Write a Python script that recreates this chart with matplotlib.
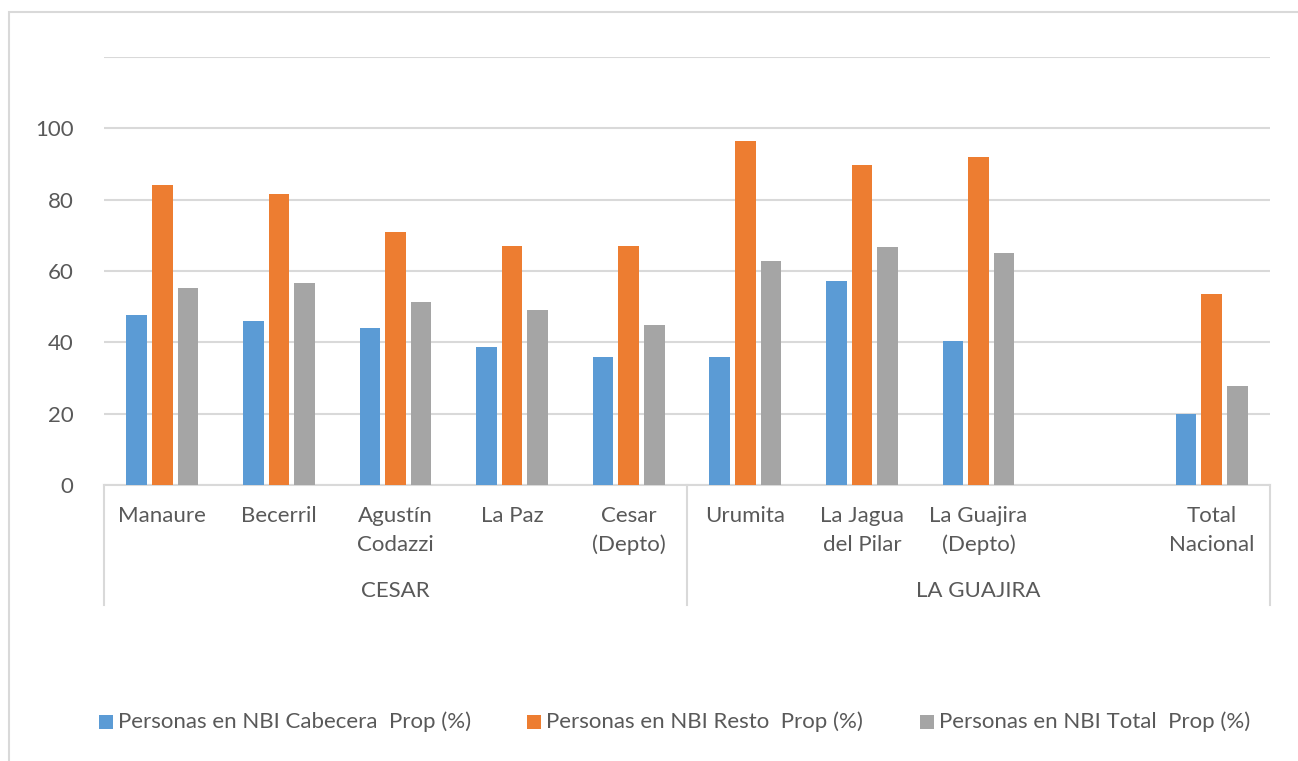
import matplotlib
matplotlib.use("Agg")
import matplotlib.pyplot as plt
from matplotlib.patches import Rectangle
import numpy as np

plt.rcParams['font.family'] = ['Lato', 'DejaVu Sans']

# ---- data ----
categories = ["Manaure", "Becerril", "Agustín\nCodazzi", "La Paz", "Cesar\n(Depto)",
              "Urumita", "La Jagua\ndel Pilar", "La Guajira\n(Depto)", "", "Total\nNacional"]
groups = ["CESAR", "LA GUAJIRA"]
group_sizes = [5, 5]
series_names = ["Personas en NBI Cabecera  Prop (%)",
                "Personas en NBI Resto  Prop (%)",
                "Personas en NBI Total  Prop (%)"]
cabecera = [47.6, 45.9, 43.9, 38.7, 35.8, 35.8, 57.2, 40.4, np.nan, 19.8]
resto = [84.2, 81.5, 70.9, 67.1, 66.9, 96.4, 89.7, 91.9, np.nan, 53.5]
total = [55.2, 56.5, 51.4, 49.2, 44.8, 62.8, 66.7, 65.1, np.nan, 27.7]
yticks = [0, 20, 40, 60, 80, 100, 120]
ytick_labels = ["0", "20", "40", "60", "80", "100", ""]

colors = ["#5B9BD5", "#ED7D31", "#A5A5A5"]
text_color = "#595959"
grid_color = "#D9D9D9"

W, H = 1298, 761
fig = plt.figure(figsize=(W / 100, H / 100), dpi=100)

# outer chart border
fig.patches.append(Rectangle((9 / W, -0.1), 1.2, (H - 12) / H + 0.1,
                             transform=fig.transFigure, fill=False,
                             edgecolor=grid_color, linewidth=1.5))

left, right, top, bottom = 104, 1270, 57, 485
ax = fig.add_axes([left / W, (H - bottom) / H, (right - left) / W, (bottom - top) / H])

n = len(categories)
x = np.arange(n) + 0.5
bw = 0.176
step = 0.22
for k, (vals, c) in enumerate(zip([cabecera, resto, total], colors)):
    ax.bar(x + (k - 1) * step, vals, width=bw, color=c, zorder=3)

ax.set_xlim(0, n)
ax.set_ylim(0, 120)
ax.set_yticks(yticks)
ax.set_yticklabels(ytick_labels)
ax.tick_params(axis='y', length=0, pad=22, labelsize=16, labelcolor=text_color)
ax.set_xticks([])
ax.grid(axis='y', color=grid_color, linewidth=1.5, zorder=0)
for s in ["top", "right", "left"]:
    ax.spines[s].set_visible(False)
ax.spines["bottom"].set_color(grid_color)
ax.spines["bottom"].set_linewidth(1.5)

px = (bottom - top)  # axis height in pixels
trans = ax.get_xaxis_transform()

# category labels, one line at a time
for xi, lab in zip(x, categories):
    for j, line in enumerate(lab.split("\n")):
        ypix = 516 + 29 * j
        ax.text(xi, -(ypix - bottom) / px, line, transform=trans, ha='center',
                va='center', fontsize=16, color=text_color, clip_on=False)

# group labels and separators
edges = np.concatenate([[0], np.cumsum(group_sizes)])
for e in edges:
    ax.plot([e, e], [0, -(605 - bottom) / px], transform=trans, color=grid_color,
            linewidth=1.5, clip_on=False)
for g, a, b in zip(groups, edges[:-1], edges[1:]):
    ax.text((a + b) / 2, -(591 - bottom) / px, g, transform=trans, ha='center',
            va='center', fontsize=16, color=text_color, clip_on=False)

# legend
leg_x = [99, 527, 920]
leg_y = 722
sq = 14
for lx, c, name in zip(leg_x, colors, series_names):
    fig.patches.append(Rectangle((lx / W, (H - leg_y - sq / 2) / H), sq / W, sq / H,
                                 transform=fig.transFigure, facecolor=c, edgecolor='none'))
    fig.text((lx + sq + 5) / W, (H - leg_y) / H, name, ha='left', va='center',
             fontsize=16, color=text_color)

fig.savefig("out.png", dpi=100)
